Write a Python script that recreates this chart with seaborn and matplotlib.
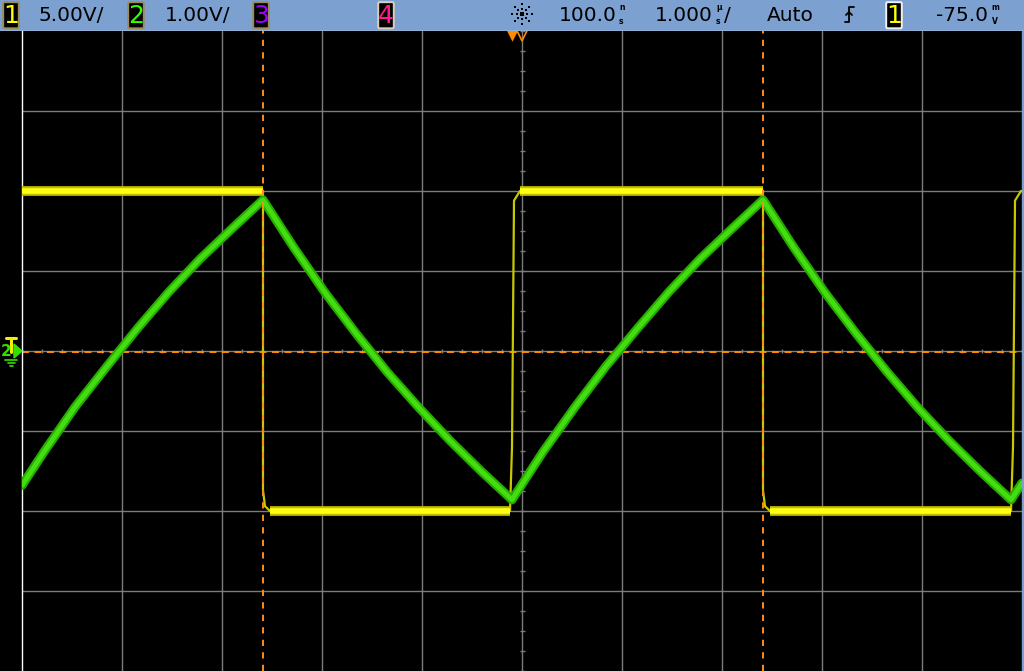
#oscilloscope capture: square wave (ch1) and RC triangle (ch2)

import numpy as np
import pandas as pd
import matplotlib
matplotlib.use("Agg")
import matplotlib.pyplot as plt
import seaborn as sns
from matplotlib.patches import FancyBboxPatch, Polygon

sns.set_style('dark')
plt.rcParams['font.family'] = ['DejaVu Sans']
plt.rcParams['lines.scale_dashes'] = False

# scope settings
ch1_scale = 5.0      # V/div
ch2_scale = 1.0      # V/div
delay = 0.1          # us
trig_level = -0.075  # V
cursor_t = [-2.49, 2.51]

# channel 1 (square wave), time in us, volts
ch1_t = [-4.90, -2.49, -2.49, -2.47, -2.42, -0.02, 0.00, 0.02, 0.08,
         2.51, 2.51, 2.53, 2.58, 4.99, 5.01, 5.03, 5.09, 5.10]
ch1_v = [10, 10, -8.7, -9.7, -10, -10, -6, 9.4, 10,
         10, -8.7, -9.7, -10, -10, -6, 9.4, 10, 10]
# flat tops/bottoms, drawn as the thick trace
flat_start = [-4.90, -2.42, 0.08, 2.58]
flat_end = [-2.49, -0.02, 2.51, 4.99]
flat_v = [10, -10, 10, -10]

# channel 2 (triangle), time in us, volts
ch2_t = [-4.90, -4.68, -4.37, -4.05, -3.74, -3.43, -3.12, -2.80,
         -2.49, -2.18, -1.87, -1.56, -1.25, -0.93, -0.62, -0.31,
         0.00, 0.31, 0.63, 0.94, 1.26, 1.57, 1.88, 2.20,
         2.51, 2.82, 3.13, 3.44, 3.75, 4.06, 4.37, 4.68,
         4.99, 5.10]
ch2_v = [-1.68, -1.26, -0.70, -0.19, 0.29, 0.74, 1.15, 1.53,
         1.89, 1.29, 0.73, 0.22, -0.26, -0.71, -1.12, -1.50,
         -1.86, -1.26, -0.70, -0.19, 0.29, 0.74, 1.15, 1.53,
         1.89, 1.29, 0.73, 0.22, -0.26, -0.71, -1.12, -1.50,
         -1.86, -1.65]

ch1 = pd.DataFrame({'t': ch1_t, 'div': np.array(ch1_v) / ch1_scale})
ch2 = pd.DataFrame({'t': ch2_t, 'div': np.array(ch2_v) / ch2_scale})
rows = []
for i in range(len(flat_v)):
    rows.append((i, flat_start[i], flat_v[i] / ch1_scale))
    rows.append((i, flat_end[i], flat_v[i] / ch1_scale))
flat = pd.DataFrame(rows, columns=['seg', 't', 'div'])

fig = plt.figure(figsize=(10.24, 6.71), dpi=100, facecolor='black')

# ---- main screen
ax = fig.add_axes([22/1024, 0, 1000/1024, 640/671])
ax.set_facecolor('black')
ax.set_xlim(delay - 5, delay + 5)
ax.set_ylim(-4, 4)
ax.set_xticks(delay + np.arange(-4, 5))
ax.set_yticks(np.arange(-3, 4))
ax.grid(True, color='#7c7c7c', lw=1)
ax.tick_params(length=0, labelbottom=False, labelleft=False)
for s in ['top', 'right', 'bottom']:
    ax.spines[s].set_visible(False)
ax.spines['left'].set_color('white')
ax.spines['left'].set_linewidth(1)

# center axis minor ticks
ax.vlines(delay + np.arange(-5, 5.01, 0.2), -0.031, 0.031, color='#7c7c7c', lw=1, zorder=1)
ax.hlines(np.arange(-4, 4.01, 0.25), delay - 0.025, delay + 0.025, color='#7c7c7c', lw=1, zorder=1)

# ch1 thin edges + thick flat parts
sns.lineplot(data=ch1, x='t', y='div', sort=False, estimator=None, color='#c8c800', lw=1.6, ax=ax, zorder=3)
sns.lineplot(data=flat, x='t', y='div', units='seg', sort=False, estimator=None, color='#c4bc00',
             lw=7, solid_capstyle='butt', ax=ax, zorder=3)
sns.lineplot(data=flat, x='t', y='div', units='seg', sort=False, estimator=None, color='#ffff14',
             lw=4, solid_capstyle='butt', ax=ax, zorder=3)

# ch2
sns.lineplot(data=ch2, x='t', y='div', sort=False, estimator=None, color='#26ac00', lw=6.5, ax=ax, zorder=4)
sns.lineplot(data=ch2, x='t', y='div', sort=False, estimator=None, color='#44de10', lw=3.5, ax=ax, zorder=4)

# trigger level and cursors
ax.axhline(trig_level / ch1_scale, color='#ff8c00', lw=1.4, linestyle=(0, (5, 4)), zorder=2)
for c in cursor_t:
    ax.axvline(c, color='#ff8c1a', lw=1.4, linestyle=(0, (4.5, 4.5)), zorder=5)

# trigger position / delay markers
ax.scatter([0.0], [3.955], marker='v', s=80, color='#ff8c00', lw=0, zorder=6, clip_on=False)
ax.scatter([delay], [3.955], marker='v', s=80, facecolor='none', edgecolor='#ff8c00', lw=1.2, zorder=6, clip_on=False)
ax.set_xlabel('')
ax.set_ylabel('')

# ---- left margin markers (pixel coords)
lm = fig.add_axes([0, 0, 22/1024, 640/671])
lm.set_xlim(0, 22)
lm.set_ylim(671, 31)
lm.axis('off')
lm.add_patch(Polygon([(14, 344), (22, 351), (14, 358)], closed=True, color='#33e000', clip_on=False))
lm.text(6, 352, '2', color='#33e000', fontsize=11, fontweight='bold', ha='center', va='center')
lm.plot([6, 16], [338.5, 338.5], color='#f0f000', lw=2.2)
lm.plot([11, 11], [338.5, 352], color='#f0f000', lw=2.2)
lm.plot([5, 17], [360, 360], color='#33e000', lw=1.2)
lm.plot([7.5, 14.5], [363, 363], color='#33e000', lw=1.2)
lm.plot([9.5, 12.5], [366, 366], color='#33e000', lw=1.2)

# ---- header bar (pixel coords)
hd = fig.add_axes([0, 640/671, 1, 31/671])
hd.set_xlim(0, 1024)
hd.set_ylim(31, 0)
hd.axis('off')
hd.add_patch(plt.Rectangle((0, 0), 1024, 31, color='#7ca0cf'))
hd.plot([0, 1024], [30.6, 30.6], color='#e6eef8', lw=1)

def badge(x, label, col, ec='#9c8c5c'):
    hd.add_patch(FancyBboxPatch((x + 1.5, 3.5), 13, 23.5, boxstyle='round,pad=1.3',
                                fc='black', ec=ec, lw=1.4))
    hd.text(x + 8, 16, label, color=col, fontsize=18, ha='center', va='center',
            family=['Liberation Sans Narrow', 'DejaVu Sans'])

badge(3, '1', '#ffff00')
badge(128, '2', '#33ff00')
badge(253, '3', '#a000ff')
badge(378, '4', '#ff1a8c', ec='#d8d0b8')
badge(886, '1', '#ffff00', ec='#f0f0f0')

tk = dict(color='black', fontsize=14.5, va='center')
sm = dict(color='black', fontsize=5.5, va='center', fontweight='bold')
hd.text(39, 15.5, '5.00V/', **tk)
hd.text(165, 15.5, '1.00V/', **tk)
hd.text(559, 15.5, '100.0', **tk)
hd.text(619, 7.5, 'n', **sm)
hd.text(619, 22, 's', **sm)
hd.text(655, 15.5, '1.000', **tk)
hd.text(716, 7.5, 'µ', **sm)
hd.text(716, 22, 's', **sm)
hd.text(724, 15.5, '/', **tk)
hd.text(767, 15.5, 'Auto', **tk)
hd.text(936, 15.5, '-75.0', **tk)
hd.text(991, 7.5, 'm', **sm)
hd.text(992, 22, 'V', **sm)

# acquisition icon
ang = np.linspace(0, 2 * np.pi, 8, endpoint=False)
hd.scatter(522 + 5 * np.cos(ang), 14 + 5 * np.sin(ang), s=3, color='black', marker='s', lw=0)
hd.scatter(522 + 10 * np.cos(ang), 14 + 10 * np.sin(ang), s=3, color='black', marker='s', lw=0)
hd.scatter([522], [14], s=5, color='black', marker='s', lw=0)

# rising edge trigger symbol
hd.plot([845, 849, 849, 854], [22, 22, 7, 7], color='black', lw=1.3)
hd.plot([846, 849, 852], [15, 12, 15], color='black', lw=1.3)

# right border strip
fig.patches.append(plt.Rectangle((1022/1024, 0), 2/1024, 640/671, transform=fig.transFigure,
                                 color='#7ca0cf', zorder=10))

fig.savefig('out.png', dpi=100, facecolor='black')
